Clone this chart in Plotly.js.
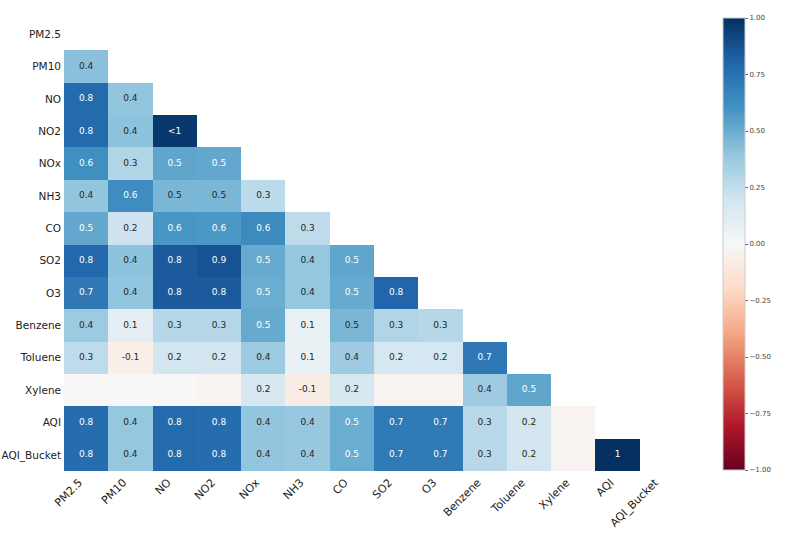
<!DOCTYPE html>
<html>
<head>
<meta charset="utf-8">
<script src="https://cdn.plot.ly/plotly-3.0.1.min.js"></script>
<style>html,body{margin:0;padding:0;background:#fff;}#chart{width:798px;height:535px;}</style>
</head>
<body>
<div id="chart"></div>
<script>
// Variables (rows top to bottom, columns left to right)
const labels = ["PM2.5","PM10","NO","NO2","NOx","NH3","CO","SO2","O3","Benzene","Toluene","Xylene","AQI","AQI_Bucket"];

// Lower-triangle nullity correlations (estimated underlying values), one array per row
const rowPM25     = [];
const rowPM10     = [0.42];
const rowNO       = [0.78, 0.40];
const rowNO2      = [0.78, 0.41, 0.97];
const rowNOx      = [0.62, 0.30, 0.53, 0.52];
const rowNH3      = [0.40, 0.63, 0.46, 0.46, 0.27];
const rowCO       = [0.52, 0.21, 0.59, 0.58, 0.64, 0.26];
const rowSO2      = [0.79, 0.41, 0.84, 0.87, 0.51, 0.39, 0.53];
const rowO3       = [0.72, 0.40, 0.84, 0.84, 0.50, 0.39, 0.51, 0.80];
const rowBenzene  = [0.37, 0.10, 0.29, 0.29, 0.51, 0.08, 0.46, 0.30, 0.29];
const rowToluene  = [0.26, -0.06, 0.19, 0.19, 0.37, 0.07, 0.36, 0.18, 0.18, 0.72];
const rowXylene   = [-0.01, 0.01, 0.00, -0.02, 0.17, -0.08, 0.17, -0.03, -0.03, 0.36, 0.53];
const rowAQI      = [0.77, 0.39, 0.78, 0.77, 0.40, 0.38, 0.50, 0.71, 0.71, 0.28, 0.19, -0.03];
const rowAQIB     = [0.77, 0.39, 0.78, 0.77, 0.40, 0.38, 0.50, 0.71, 0.71, 0.28, 0.19, -0.03, 1.00];
const rows = [rowPM25,rowPM10,rowNO,rowNO2,rowNOx,rowNH3,rowCO,rowSO2,rowO3,rowBenzene,rowToluene,rowXylene,rowAQI,rowAQIB];

// Colorbar ticks
const cbTickVals = [1, 0.75, 0.5, 0.25, 0, -0.25, -0.5, -0.75, -1];
const cbTickText = ["1.00","0.75","0.50","0.25","0.00","\u22120.25","\u22120.50","\u22120.75","\u22121.00"];

// matplotlib RdBu
const rdbu = ["#67001f","#b2182b","#d6604d","#f4a582","#fddbc7","#f7f7f7","#d1e5f0","#92c5de","#4393c3","#2166ac","#053061"];
const colorscale = rdbu.map((c,i)=>[i/(rdbu.length-1), c]);

function fmt(v){
  if (v === 1) return "1";
  if (v === -1) return "-1";
  if (v >= 0.95 && v < 1) return "<1";
  if (v > -1 && v <= -0.95) return ">-1";
  if (v > -0.05 && v < 0.05) return "";
  return (Math.round(v*10)/10).toFixed(1).replace(/\.0$/, "");
}

const z = labels.map((r,i)=>labels.map((c,j)=> (j < rows[i].length ? rows[i][j] : null)));

const tx=[], ty=[], tt=[], tc=[];
labels.forEach((r,i)=>{
  rows[i].forEach((v,j)=>{
    tx.push(labels[j]); ty.push(r); tt.push(fmt(v));
    tc.push((v >= 0.48 || v <= -0.5) ? "#ffffff" : "#262626");
  });
});

const heat = {
  type: "heatmap",
  x: labels, y: labels, z: z,
  zmin: -1, zmax: 1,
  colorscale: colorscale,
  hoverongaps: false,
  xgap: 0, ygap: 0,
  colorbar: {
    x: 1.063, xanchor: "left",
    y: 1.0, yanchor: "top", len: 0.998, lenmode: "fraction",
    thickness: 22, xpad: 0, ypad: 0,
    outlinewidth: 1, outlinecolor: "#cccccc",
    tickmode: "array", tickvals: cbTickVals, ticktext: cbTickText,
    ticks: "outside", ticklen: 3, tickwidth: 1, tickcolor: "#666",
    tickfont: {family: "DejaVu Sans", size: 7, color: "#444"}
  }
};

const annot = {
  type: "scatter", mode: "text",
  x: tx, y: ty, text: tt,
  textposition: "middle center",
  textfont: {family: "DejaVu Sans", size: 9, color: tc},
  hoverinfo: "skip", showlegend: false
};

const layout = {
  width: 798, height: 535,
  margin: {l: 64, r: 114, t: 18, b: 64},
  paper_bgcolor: "#fff", plot_bgcolor: "#fff",
  xaxis: {
    type: "category", range: [-0.5, labels.length - 0.5], autorange: false,
    tickangle: -45, showgrid: false, zeroline: false, showline: false,
    automargin: false, ticklabelshift: -7, ticklabelstandoff: 2,
    ticks: "", tickfont: {family: "DejaVu Sans", size: 11, color: "#222"}
  },
  yaxis: {
    type: "category", range: [labels.length - 0.5, -0.5], autorange: false,
    showgrid: false, zeroline: false, showline: false,
    automargin: false,
    ticks: "", ticklabelstandoff: 2, tickfont: {family: "DejaVu Sans", size: 10.5, color: "#222"}
  },
  showlegend: false
};

Plotly.newPlot("chart", [heat, annot], layout, {displayModeBar: false, staticPlot: true});
</script>
</body>
</html>
